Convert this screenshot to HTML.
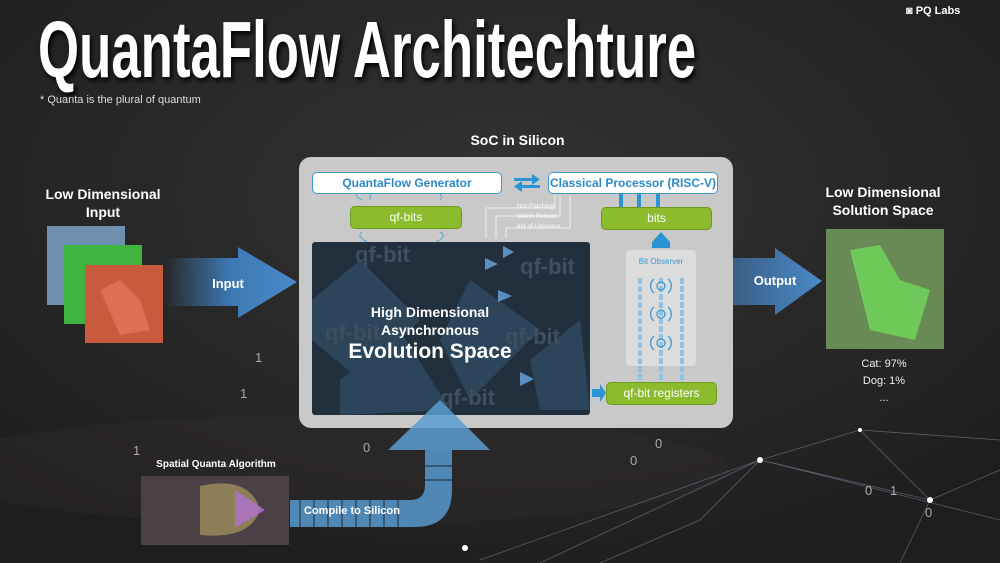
<!DOCTYPE html>
<html><head><meta charset="utf-8"><style>
body{margin:0;width:1000px;height:563px;overflow:hidden;background:#262626;font-family:"Liberation Sans",sans-serif;position:relative}
.a{position:absolute}
.t{color:#fff;font-weight:bold;text-align:center}
.wb{position:absolute;background:#fff;border:1.5px solid #3a9ad0;border-radius:5px;color:#2b8ac6;font-weight:bold;font-size:12px;text-align:center;line-height:20px}
.gb{position:absolute;background:#8cbb2e;border:1px solid #6c9a1c;border-radius:5px;color:#fff;font-size:12px;text-align:center;line-height:21px}
</style></head><body>
<svg class="a" style="left:0;top:0" width="1000" height="563">
<defs>
<radialGradient id="bg" cx="0.5" cy="0.35" r="0.7"><stop offset="0" stop-color="#333"/><stop offset="1" stop-color="#1e1e1e"/></radialGradient>
<linearGradient id="ia" x1="0" x2="1"><stop offset="0" stop-color="#3f78b0" stop-opacity="0"/><stop offset="0.5" stop-color="#3d79b5"/><stop offset="1" stop-color="#4a8ac8"/></linearGradient>
<linearGradient id="oa" x1="0" x2="1"><stop offset="0" stop-color="#3a5f85"/><stop offset="1" stop-color="#4a8ac8"/></linearGradient>
</defs>
<rect width="1000" height="563" fill="url(#bg)"/>
<ellipse cx="330" cy="470" rx="400" ry="55" fill="#3a3036" opacity="0.25"/>
<g stroke="#8a7fa0" stroke-width="0.8" opacity="0.6" fill="none">
<path d="M480 560 L760 460 L930 500 L1000 470 M760 460 L860 430 L1000 440 M760 460 L700 520 L600 563 M930 500 L900 563 M860 430 L930 500 M760 460 L1000 520 M540 563 L760 460"/>
</g>
<g fill="#fff"><circle cx="760" cy="460" r="3"/><circle cx="930" cy="500" r="3"/><circle cx="860" cy="430" r="2"/><circle cx="465" cy="548" r="3"/></g>
<g fill="#aaa" font-size="13" font-family="Liberation Sans"><text x="255" y="362">1</text><text x="363" y="452">0</text><text x="630" y="465">0</text><text x="655" y="448">0</text><text x="865" y="495">0</text><text x="890" y="495">1</text><text x="925" y="517">0</text><text x="133" y="455">1</text><text x="240" y="398">1</text></g>
<polygon points="165,258 238,258 238,247 297,282 238,318 238,306 165,306" fill="url(#ia)"/>
<polygon points="733,258 775,258 775,248 822,281 775,315 775,305 733,305" fill="url(#oa)"/>
<rect x="299" y="157" width="434" height="271" rx="12" fill="#c9c9c9"/>
<rect x="312" y="242" width="278" height="173" rx="3" fill="#22303e"/>
<g fill="#35536f" opacity="0.6">
<polygon points="312,300 360,260 420,320 360,380 312,340"/>
<polygon points="470,280 540,330 470,400 440,340"/>
<polygon points="530,360 580,320 590,410 540,410"/>
<polygon points="340,380 400,330 450,410 340,415"/>
</g>
<g fill="#3d4f60" font-size="22" font-weight="bold"><text x="325" y="340">qf-bit</text><text x="355" y="262">qf-bit</text><text x="520" y="274">qf-bit</text><text x="505" y="344">qf-bit</text><text x="440" y="405">qf-bit</text></g>
<g fill="#5b8fc0"><polygon points="485,258 498,264 485,270"/><polygon points="498,290 512,296 498,302"/><polygon points="520,372 534,379 520,386"/><polygon points="503,246 514,252 503,258"/></g>
<rect x="626" y="250" width="70" height="116" rx="4" fill="#dcdcdc"/>
<g stroke="#8ec3e6" stroke-width="4" stroke-dasharray="6 2"><line x1="640" y1="278" x2="640" y2="382"/><line x1="661" y1="278" x2="661" y2="382"/><line x1="682" y1="278" x2="682" y2="382"/></g>
<g fill="none" stroke="#3a9ad0" stroke-width="1.3"><circle cx="661" cy="286" r="4"/><circle cx="661" cy="314" r="4"/><circle cx="661" cy="343" r="4"/>
<path d="M654 279 a9 9 0 0 0 0 14 M668 279 a9 9 0 0 1 0 14 M654 307 a9 9 0 0 0 0 14 M668 307 a9 9 0 0 1 0 14 M654 336 a9 9 0 0 0 0 14 M668 336 a9 9 0 0 1 0 14"/></g>
<text x="661" y="264" font-size="8" fill="#3a9ad0" text-anchor="middle">Bit Observer</text>
<polygon points="652,248 670,248 670,242 661,232 652,242" fill="#2a94d4"/>
<rect x="656" y="238" width="10" height="10" fill="#2a94d4"/>
<g fill="#2a94d4"><rect x="619" y="194" width="4" height="13"/><rect x="637" y="194" width="4" height="13"/><rect x="656" y="194" width="4" height="13"/></g>
<polygon points="592,389 600,389 600,384 606,393 600,402 600,397 592,397" fill="#2a94d4"/>
<g fill="#2a94d4"><rect x="514" y="178" width="20" height="3"/><polygon points="532,174 540,179.5 532,185"/><rect x="520" y="185" width="20" height="3"/><polygon points="522,181 514,186.5 522,192"/></g>
<g stroke="#eee" fill="none" stroke-width="1"><path d="M555 195 V 208 H 486 V 238 M560 195 V 216 H 496 V 238 M570 195 V 228 H 506 V 238"/></g>
<g font-size="6.5" fill="#fff"><text x="517" y="208">Hot Patching</text><text x="517" y="218">Warm Reboot</text><text x="517" y="228">Init qf-Universe</text></g>
<g stroke="#3a9ad0" fill="none" stroke-width="1" opacity="0.8"><path d="M362 200 q-10 -5 -4 -10 M370 200 q0 -5 2 -10 M440 200 q5 -5 -6 -10 M362 232 q-6 4 5 10 M440 232 q8 4 -4 10"/></g>
<polygon points="388,450 440,400 490,450" fill="#5a9dcf" opacity="0.85"/>
<path d="M290 500 H410 Q425 500 425 485 V450 H452 V490 Q452 527 415 527 H290 Z" fill="#4f88b5"/>
<g stroke="#2b3a48" stroke-width="1.2"><line x1="300" y1="500" x2="300" y2="527"/><line x1="314" y1="500" x2="314" y2="527"/><line x1="328" y1="500" x2="328" y2="527"/><line x1="342" y1="500" x2="342" y2="527"/><line x1="356" y1="500" x2="356" y2="527"/><line x1="370" y1="500" x2="370" y2="527"/><line x1="384" y1="500" x2="384" y2="527"/><line x1="398" y1="500" x2="398" y2="527"/><line x1="425" y1="466" x2="452" y2="466"/><line x1="425" y1="480" x2="452" y2="480"/></g>
<rect x="141" y="476" width="148" height="69" fill="#4a4046"/>
<path d="M200 486 Q250 475 260 510 Q250 540 200 535 Z" fill="#a89a60" opacity="0.7"/>
<path d="M235 490 L265 510 L235 528 Z" fill="#b070d0" opacity="0.8"/>
<rect x="47" y="226" width="78" height="79" fill="#6f8fb0"/>
<rect x="64" y="245" width="78" height="79" fill="#3fb53f"/>
<rect x="85" y="265" width="78" height="78" fill="#c85a3e"/>
<path d="M100 290 L120 280 L140 300 L150 330 L120 335 Z" fill="#f07a68" opacity="0.6"/>
<rect x="826" y="229" width="118" height="120" fill="#6a8a55"/>
<path d="M850 250 L880 245 L900 280 L930 290 L915 340 L870 330 Z" fill="#6fd85a" opacity="0.8"/>
</svg>
<div class="a t" style="left:38px;top:8px;font-size:80px;line-height:84px;white-space:nowrap;transform:scaleX(0.66);transform-origin:left;text-shadow:3px 3px 6px #000">QuantaFlow Architechture</div>
<div class="a" style="left:40px;top:94px;font-size:11px;color:#ddd;white-space:nowrap">* Quanta is the plural of quantum</div>
<div class="a t" style="left:906px;top:5px;font-size:11px">◙ PQ Labs</div>
<div class="a t" style="left:420px;top:132px;width:195px;font-size:14px">SoC in Silicon</div>
<div class="a t" style="left:23px;top:185px;width:160px;font-size:14px;line-height:18px">Low Dimensional<br>Input</div>
<div class="a t" style="left:800px;top:183px;width:166px;font-size:14px;line-height:18px">Low Dimensional<br>Solution Space</div>
<div class="a t" style="left:200px;top:276px;width:56px;font-size:13px">Input</div>
<div class="a t" style="left:745px;top:273px;width:60px;font-size:13px">Output</div>
<div class="a" style="left:830px;top:356px;width:108px;text-align:center;color:#eee;font-size:11px;line-height:17px">Cat: 97%<br>Dog: 1%<br>...</div>
<div class="wb" style="left:312px;top:172px;width:188px">QuantaFlow Generator</div>
<div class="wb" style="left:548px;top:172px;width:168px">Classical Processor (RISC-V)</div>
<div class="gb" style="left:350px;top:206px;width:110px">qf-bits</div>
<div class="gb" style="left:601px;top:207px;width:109px">bits</div>
<div class="gb" style="left:606px;top:382px;width:109px">qf-bit registers</div>
<div class="a t" style="left:330px;top:303px;width:200px;font-size:14px;line-height:18px">High Dimensional<br>Asynchronous</div>
<div class="a t" style="left:330px;top:340px;width:200px;font-size:21px">Evolution Space</div>
<div class="a t" style="left:140px;top:459px;width:152px;font-size:10px">Spatial Quanta Algorithm</div>
<div class="a t" style="left:302px;top:505px;width:100px;font-size:11px">Compile to Silicon</div>
</body></html>
